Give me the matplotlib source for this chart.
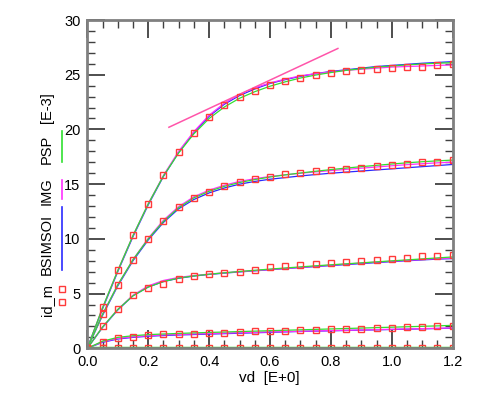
import numpy as np
import matplotlib
matplotlib.use("Agg")
import matplotlib.pyplot as plt
from matplotlib.lines import Line2D

plt.rcParams['font.family'] = ['Liberation Sans', 'DejaVu Sans']

vd = [0.0, 0.05, 0.10, 0.15, 0.20, 0.25, 0.30, 0.35, 0.40, 0.45, 0.50, 0.55,
      0.60, 0.65, 0.70, 0.75, 0.80, 0.85, 0.90, 0.95, 1.00, 1.05, 1.10, 1.15, 1.20]

# measured id (E-3), markers
meas1 = [0.0, 3.77, 7.2, 10.4, 13.2, 15.8, 17.9, 19.7, 21.1, 22.2, 23.0, 23.5,
         24.1, 24.45, 24.7, 24.97, 25.15, 25.3, 25.4, 25.5, 25.6, 25.67, 25.7, 25.85, 26.0]
meas2 = [0.0, 3.15, 5.8, 8.1, 10.0, 11.66, 12.9, 13.7, 14.3, 14.8, 15.2, 15.46,
         15.67, 15.9, 16.0, 16.17, 16.26, 16.4, 16.5, 16.65, 16.75, 16.87, 17.0, 17.05, 17.2]
meas3 = [0.0, 2.0, 3.6, 4.85, 5.5, 5.86, 6.29, 6.6, 6.78, 6.87, 7.0, 7.18,
         7.4, 7.48, 7.6, 7.7, 7.8, 7.88, 8.0, 8.07, 8.16, 8.25, 8.4, 8.4, 8.56]
meas4 = [0.0, 0.6, 0.92, 1.0, 1.23, 1.32, 1.32, 1.35, 1.44, 1.38, 1.47, 1.56,
         1.56, 1.6, 1.66, 1.66, 1.72, 1.72, 1.8, 1.84, 1.84, 1.93, 1.93, 2.0, 2.0]
meas5 = [0.0, 0.05, 0.05, 0.05, 0.05, 0.05, 0.05, 0.05, 0.05, 0.05, 0.05, 0.05,
         0.05, 0.05, 0.05, 0.05, 0.05, 0.05, 0.05, 0.05, 0.05, 0.05, 0.05, 0.05, 0.05]

# BSIMSOI model (blue)
bsim1 = [0.0, 3.6, 7.0, 10.2, 13.1, 15.7, 17.9, 19.7, 21.2, 22.3, 23.1, 23.7,
         24.2, 24.55, 24.85, 25.1, 25.3, 25.45, 25.6, 25.75, 25.85, 25.95, 26.05, 26.12, 26.2]
bsim2 = [0.0, 3.0, 5.7, 8.0, 9.9, 11.5, 12.75, 13.6, 14.2, 14.65, 15.0, 15.25,
         15.45, 15.6, 15.75, 15.88, 16.0, 16.1, 16.2, 16.3, 16.4, 16.5, 16.6, 16.7, 16.8]
bsim3 = [0.0, 1.9, 3.5, 4.8, 5.6, 6.1, 6.4, 6.6, 6.75, 6.87, 6.98, 7.08,
         7.18, 7.28, 7.38, 7.47, 7.56, 7.65, 7.74, 7.83, 7.92, 8.0, 8.08, 8.15, 8.2]
bsim4 = [0.0, 0.55, 0.85, 1.0, 1.1, 1.17, 1.22, 1.26, 1.3, 1.34, 1.38, 1.42,
         1.46, 1.5, 1.54, 1.57, 1.6, 1.63, 1.66, 1.69, 1.72, 1.75, 1.78, 1.81, 1.84]
bsim5 = [0.0] * 25

# IMG model (magenta)
img1 = [0.0, 3.7, 7.1, 10.3, 13.2, 15.8, 18.0, 19.8, 21.3, 22.4, 23.2, 23.8,
        24.25, 24.6, 24.9, 25.1, 25.25, 25.4, 25.5, 25.6, 25.7, 25.75, 25.8, 25.85, 25.9]
img2 = [0.0, 3.1, 5.8, 8.1, 10.05, 11.7, 12.95, 13.85, 14.45, 14.9, 15.25, 15.5,
        15.7, 15.85, 16.0, 16.12, 16.24, 16.35, 16.46, 16.57, 16.68, 16.78, 16.87, 16.95, 17.0]
img3 = [0.0, 1.95, 3.55, 4.85, 5.7, 6.2, 6.48, 6.65, 6.78, 6.9, 7.0, 7.1,
        7.2, 7.3, 7.4, 7.5, 7.6, 7.7, 7.79, 7.88, 7.96, 8.04, 8.12, 8.2, 8.25]
img4 = [0.0, 0.6, 0.9, 1.05, 1.15, 1.22, 1.27, 1.31, 1.35, 1.39, 1.43, 1.46,
        1.5, 1.53, 1.56, 1.59, 1.62, 1.65, 1.68, 1.71, 1.74, 1.77, 1.8, 1.83, 1.86]
img5 = [0.0] * 25

# PSP model (green)
psp1 = [0.0, 3.7, 7.1, 10.3, 13.2, 15.75, 17.85, 19.6, 21.0, 22.05, 22.85, 23.45,
        23.95, 24.35, 24.7, 24.97, 25.2, 25.4, 25.55, 25.7, 25.8, 25.9, 25.98, 26.05, 26.1]
psp2 = [0.0, 3.1, 5.8, 8.1, 10.0, 11.6, 12.85, 13.75, 14.35, 14.8, 15.15, 15.42,
        15.65, 15.85, 16.02, 16.18, 16.33, 16.47, 16.6, 16.72, 16.84, 16.95, 17.05, 17.13, 17.2]
psp3 = [0.0, 1.95, 3.55, 4.8, 5.6, 6.1, 6.42, 6.62, 6.77, 6.9, 7.02, 7.13,
        7.24, 7.34, 7.44, 7.54, 7.63, 7.72, 7.81, 7.9, 7.99, 8.08, 8.17, 8.26, 8.35]
psp4 = [0.0, 0.65, 1.0, 1.15, 1.25, 1.31, 1.36, 1.41, 1.45, 1.49, 1.53, 1.57,
        1.61, 1.65, 1.69, 1.73, 1.77, 1.81, 1.85, 1.89, 1.93, 1.97, 2.01, 2.05, 2.1]
psp5 = [0.0] * 25

# tangent line (IMG)
tan_x = [0.268, 0.823]
tan_y = [20.2, 27.4]

xticks = [0.0, 0.2, 0.4, 0.6, 0.8, 1.0, 1.2]
xticklabels = ["0.0", "0.2", "0.4", "0.6", "0.8", "1.0", "1.2"]
yticks = [0, 5, 10, 15, 20, 25, 30]
yticklabels = ["0", "5", "10", "15", "20", "25", "30"]

fig = plt.figure(figsize=(5.0, 3.93), dpi=100)
ax = fig.add_axes([0.1746, 0.1137, 0.7308, 0.8354])

BLUE = '#2a2aff'
MAG = '#ff30ff'
GRN = '#30e030'
RED = '#ff3a3a'

for m, b, i, p in [(meas1, bsim1, img1, psp1), (meas2, bsim2, img2, psp2),
                   (meas3, bsim3, img3, psp3), (meas4, bsim4, img4, psp4),
                   (meas5, bsim5, img5, psp5)]:
    ax.plot(vd, b, color=BLUE, lw=0.9, zorder=3)
    ax.plot(vd, i, color=MAG, lw=0.9, zorder=3)
    ax.plot(vd, p, color=GRN, lw=0.9, zorder=3)
    ax.plot(vd, m, linestyle='none', marker='s', ms=5.0, mfc='none',
            mec=RED, mew=1.0, zorder=4)

ax.plot(vd, psp5, color=GRN, lw=2.5, zorder=5)
ax.plot(tan_x, tan_y, color='#ff55aa', lw=1.1, zorder=3)

ax.set_xlim(0, 1.2)
ax.set_ylim(0, 30)
ax.set_xticks(xticks)
ax.set_xticklabels(xticklabels)
ax.set_yticks(yticks)
ax.set_yticklabels(yticklabels)
ax.set_xticks(np.arange(0, 1.2001, 0.05), minor=True)
ax.set_yticks(np.arange(0, 30.01, 1), minor=True)
ax.tick_params(which='both', direction='in', top=True, right=True,
               color='#404040', labelsize=10.5, zorder=6)
ax.tick_params(which='major', length=13, width=1.3, pad=5)
ax.tick_params(which='minor', length=6, width=1.0)
for s in ax.spines.values():
    s.set_color('#808080')
    s.set_linewidth(2)
    s.set_zorder(7)

fig.text(0.538, 0.038, "vd  [E+0]", ha='center', va='center', fontsize=11)

# composite y label
def vtext(y, s):
    fig.text(0.094, 1 - y / 393, s, rotation=90, ha='center', va='center',
             fontsize=10.5)

vtext(300, "id_m")
vtext(244, "BSIMSOI")
vtext(191, "IMG")
vtext(149, "PSP")
vtext(108, "[E-3]")

def fline(y0, y1, c):
    fig.add_artist(Line2D([0.124, 0.124], [1 - y0 / 393, 1 - y1 / 393],
                          color=c, lw=1.2, transform=fig.transFigure))

fline(207, 270, BLUE)
fline(180, 199, MAG)
fline(131, 162, GRN)
for yy in (289, 302):
    fig.add_artist(Line2D([0.123], [1 - yy / 393], marker='s', ms=5.0,
                          mfc='none', mec=RED, mew=1.0, linestyle='none',
                          transform=fig.transFigure))

fig.savefig("out.png", dpi=100)
